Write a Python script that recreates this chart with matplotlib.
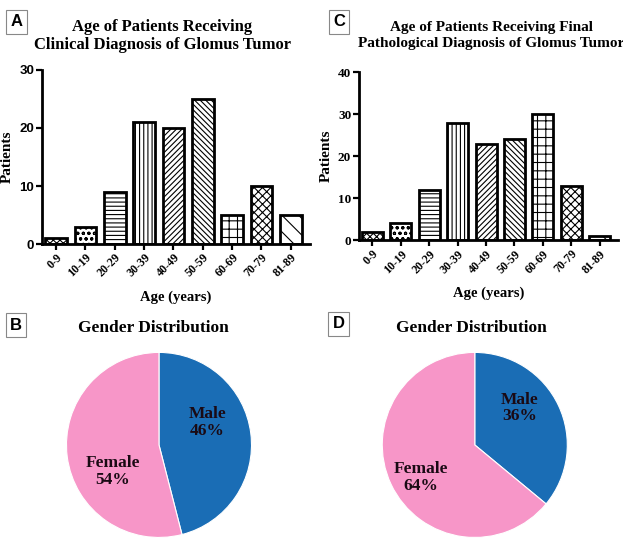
import numpy as np
import matplotlib
matplotlib.use('Agg')
import matplotlib.pyplot as plt

plt.rcParams['hatch.linewidth'] = 0.8

age_groups = ['0-9', '10-19', '20-29', '30-39', '40-49', '50-59', '60-69', '70-79', '81-89']
clinical = [1, 3, 9, 21, 20, 25, 5, 10, 5]
pathological = [2, 4, 12, 28, 23, 24, 30, 13, 1]
hatches = ['xxxxx', 'ooo', '----', '||||', '//////', '\\\\\\\\\\\\', '++', 'xxxx', '\\\\']

genders = ['Male', 'Female']
gender_clinical = [46, 54]
gender_path = [36, 64]
pie_colors = ['#1a6db5', '#f796c8']

serif = 'Liberation Serif'
sans = 'Liberation Sans'

fig = plt.figure(figsize=(6.23, 5.46), dpi=100)


def bar_panel(rect, values, ymax, title, ytick_font, title_size, title_x, title_pad, title_ls):
    ax = fig.add_axes(rect)
    x = np.arange(len(values))
    bars = ax.bar(x, values, width=0.74, color='white', edgecolor='black', linewidth=2)
    for b, h in zip(bars, hatches):
        b.set_hatch(h)
    ax.set_ylim(0, ymax)
    ax.set_xlim(-0.48, 8.65)
    ax.set_yticks(np.arange(0, ymax + 1, 10))
    ax.set_xticks(x)
    ax.set_xticklabels(age_groups, rotation=45, ha='right', rotation_mode='anchor',
                       fontfamily=serif, fontweight='bold', fontsize=8.5)
    for lab in ax.get_yticklabels():
        lab.set_fontfamily(ytick_font)
        lab.set_fontweight('bold')
        lab.set_fontsize(9.5)
    ax.tick_params(axis='both', width=1.6, length=4, pad=1.5)
    for s in ['top', 'right']:
        ax.spines[s].set_visible(False)
    for s in ['left', 'bottom']:
        ax.spines[s].set_linewidth(2)
    ax.set_ylabel('Patients', fontfamily=serif, fontweight='bold', fontsize=11, labelpad=4)
    ax.set_xlabel('Age (years)', fontfamily=serif, fontweight='bold', fontsize=10.5, labelpad=8)
    ax.set_title(title, fontfamily=serif, fontweight='bold', fontsize=title_size, pad=title_pad,
                 linespacing=title_ls, x=title_x)
    return ax


def pie_panel(rect, values, label_pos):
    ax = fig.add_axes(rect)
    ax.pie(values, colors=pie_colors, startangle=90, counterclock=False,
           wedgeprops=dict(edgecolor='white', linewidth=0.8))
    ax.set_xlim(-1, 1)
    ax.set_ylim(-1, 1)
    ax.set_aspect('equal')
    for name, v, (px, py) in zip(genders, values, label_pos):
        ax.text(px, py, f'{name}\n{v}%', ha='center', va='center', fontfamily=serif,
                fontweight='bold', fontsize=12.5, color='#1a0a14', linespacing=1.05)
    return ax


def panel_letter(x, y, letter):
    fig.text(x, y, letter, fontfamily=sans, fontweight='bold', fontsize=12, ha='center', va='center',
             bbox=dict(boxstyle='square,pad=0.25', facecolor='white', edgecolor='#888888', linewidth=0.8))


bar_panel([0.0674, 0.553, 0.430, 0.319], clinical, 30,
          'Age of Patients Receiving\nClinical Diagnosis of Glomus Tumor', sans, 12, 0.45, 15, 1.2)
bar_panel([0.576, 0.560, 0.416, 0.308], pathological, 40,
          'Age of Patients Receiving Final\nPathological Diagnosis of Glomus Tumor', serif, 11, 0.51, 18, 1.35)

pie_panel([0.1067, 0.0156, 0.297, 0.339], gender_clinical, [(0.52, 0.24), (-0.50, -0.29)])
pie_panel([0.6136, 0.0156, 0.297, 0.339], gender_path, [(0.48, 0.40), (-0.58, -0.35)])

fig.text(0.246, 1 - 328 / 546, 'Gender Distribution', fontfamily=serif, fontweight='bold',
         fontsize=12.5, ha='center', va='center')
fig.text(0.756, 1 - 328 / 546, 'Gender Distribution', fontfamily=serif, fontweight='bold',
         fontsize=12.5, ha='center', va='center')

panel_letter(16.5 / 623, 1 - 22 / 546, 'A')
panel_letter(16 / 623, 1 - 325 / 546, 'B')
panel_letter(339 / 623, 1 - 22 / 546, 'C')
panel_letter(338.5 / 623, 1 - 324 / 546, 'D')

fig.savefig('out.png', dpi=100, facecolor='white')
